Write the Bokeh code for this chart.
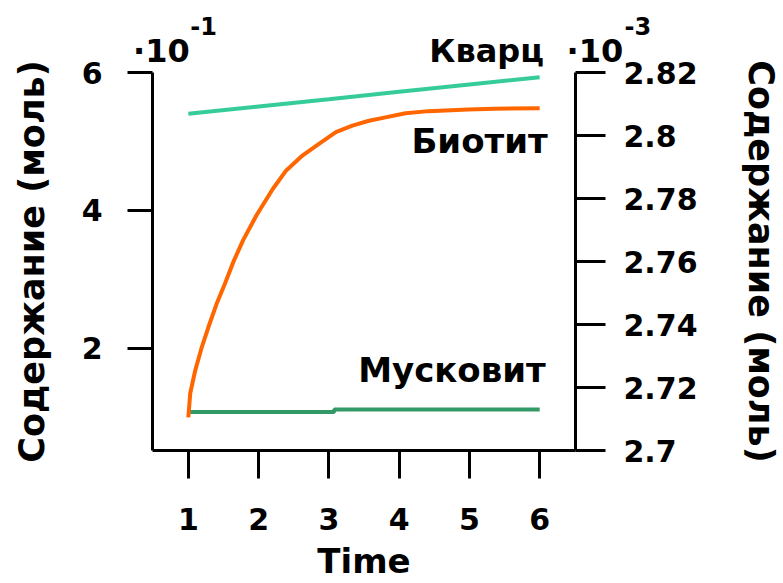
from bokeh.plotting import figure
from bokeh.models import Range1d, LinearAxis, FixedTicker, CustomJSTickFormatter, Label, AllLabels
from bokeh.embed import file_html
from bokeh.resources import INLINE

# ---- data ----
time_q = [1, 2, 3, 4, 5, 6]
kvarts = [2.8069, 2.8092, 2.8115, 2.8139, 2.8162, 2.8185]          # right axis (x10^-3)

time_b = [1, 1.027, 1.098, 1.192, 1.286, 1.404, 1.522, 1.639, 1.78, 1.97, 2.204, 2.393,
          2.628, 2.864, 3.10, 3.335, 3.57, 3.806, 4.09, 4.42, 4.98, 5.36, 6.0]
biotit = [1.0, 1.35, 1.68, 2.02, 2.31, 2.65, 2.94, 3.25, 3.57, 3.93, 4.315, 4.58,
          4.80, 4.97, 5.135, 5.23, 5.30, 5.35, 5.41, 5.44, 5.465, 5.475, 5.48]   # left axis (x10^-1)

time_m = [1, 3.076, 3.076, 6]
muskovit = [2.7122, 2.7122, 2.7130, 2.7130]                        # right axis (x10^-3)

x_ticks = [1, 2, 3, 4, 5, 6]
left_ticks = [2, 4, 6]
right_ticks = [2.7, 2.72, 2.74, 2.76, 2.78, 2.8, 2.82]

# texts written above the plot area (labels of two tick-less top axes)
NB = "\u00a0"
top_texts = ["·10", "Кварц", NB * 5 + "·10"]
top_pos = [0.617, 5.245, 6.390]
sup_texts = ["-1", NB * 17 + "-3"]
sup_pos = [1.218, 6.386]

FONT = "DejaVu Sans"
BLACK = "#000000"

p = figure(width=783, height=583, output_backend="svg", toolbar_location=None,
           x_range=Range1d(0.49, 6.51), y_range=Range1d(0.52, 6.0),
           min_border_left=152, min_border_right=205, min_border_top=72, min_border_bottom=133)
p.extra_y_ranges = {"right": Range1d(2.7, 2.82)}
p.outline_line_color = None
p.xgrid.visible = False
p.ygrid.visible = False
p.background_fill_color = "white"
p.border_fill_color = None

def style_axis(ax, tick_out, label_standoff, axis_label_standoff, tick_size="30px", lab_size="35px"):
    ax.axis_line_width = 3
    ax.axis_line_color = BLACK
    ax.major_tick_line_width = 3
    ax.major_tick_line_color = BLACK
    ax.major_tick_in = 0
    ax.major_tick_out = tick_out
    ax.minor_tick_line_color = None
    ax.major_label_text_font = FONT
    ax.major_label_text_font_style = "bold"
    ax.major_label_text_font_size = tick_size
    ax.major_label_text_color = BLACK
    ax.major_label_standoff = label_standoff
    ax.axis_label_text_font = FONT
    ax.axis_label_text_font_style = "bold"
    ax.axis_label_text_font_size = lab_size
    ax.axis_label_text_color = BLACK
    ax.axis_label_standoff = axis_label_standoff

# x axis
p.xaxis.ticker = FixedTicker(ticks=x_ticks)
p.xaxis.axis_label = "Time"
style_axis(p.xaxis[0], 28, 29, 8, lab_size="34px")

# left axis
p.yaxis.ticker = FixedTicker(ticks=left_ticks)
p.yaxis.axis_label = "Содержание (моль)"
style_axis(p.yaxis[0], 25, 25, 27)

# right axis
ra = LinearAxis(y_range_name="right", ticker=FixedTicker(ticks=right_ticks),
                formatter=CustomJSTickFormatter(code="return tick.toFixed(2).replace(/0$/, '')"),
                axis_label="Содержание (моль)")
style_axis(ra, 30, 18, 40)
p.add_layout(ra, "right")

# top text rows (no line, no ticks)
label_js = ("for (let i = 0; i < vals.length; i++) { if (Math.abs(vals[i] - tick) < 1e-6) return labels[i]; } "
            "return '';")

def top_axis(ticks, texts, size, standoff):
    ax = LinearAxis(ticker=FixedTicker(ticks=ticks),
                    bounds=(ticks[0] - 0.007, ticks[-1] + 0.007),
                    formatter=CustomJSTickFormatter(args=dict(vals=ticks, labels=texts), code=label_js),
                    major_label_policy=AllLabels())
    ax.axis_line_color = None
    ax.major_tick_line_color = None
    ax.minor_tick_line_color = None
    ax.major_tick_in = 0
    ax.major_tick_out = 0
    ax.major_label_text_font = FONT
    ax.major_label_text_font_style = "bold"
    ax.major_label_text_font_size = size
    ax.major_label_text_color = BLACK
    ax.major_label_standoff = standoff
    return ax

p.add_layout(top_axis(top_pos, top_texts, "32px", 3), "above")
p.add_layout(top_axis(sup_pos, sup_texts, "24px", -12), "above")

# lines
p.line(time_q, kvarts, y_range_name="right", line_color="#36CC98", line_width=4)
p.line(time_m, muskovit, y_range_name="right", line_color="#339966", line_width=4)
p.line(time_b, biotit, line_color="#FF6600", line_width=4)

def lab(x, y, text, size="34px"):
    p.add_layout(Label(x=x, y=y, text=text, text_font=FONT, text_font_style="bold",
                       text_font_size=size, text_align="right", text_baseline="middle",
                       text_color=BLACK))

lab(6.115, 5.0, "Биотит")
lab(6.087, 1.68, "Мусковит")

html = file_html(p, INLINE)
html = html.replace(
    "<body>",
    "<body style=\"background: linear-gradient(to bottom, #ffffff 0%, #d2f7e2 100%) left top / 8px 100% no-repeat, #ffffff;\">",
    1)
open("out.html", "w").write(html)
